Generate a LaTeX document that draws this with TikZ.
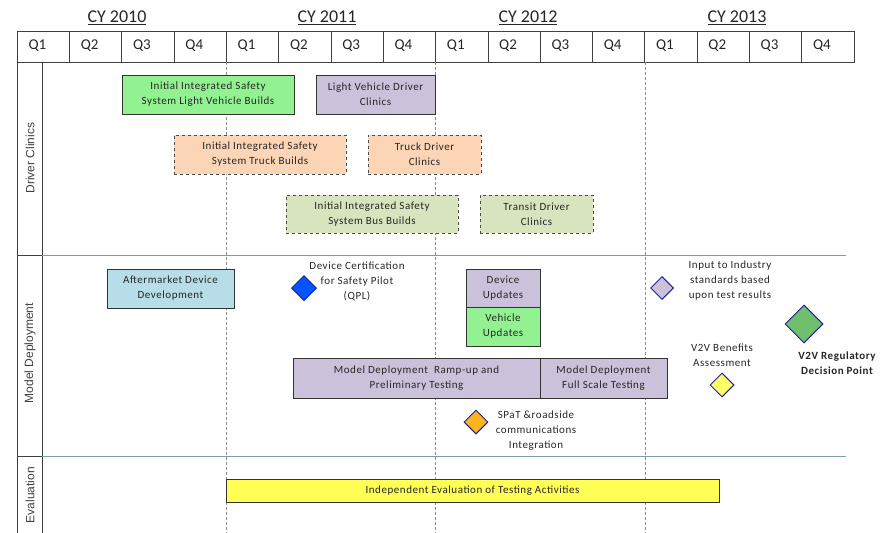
\documentclass[tikz,border=0pt]{standalone}
\usepackage{fontspec}
\setmainfont{Carlito}
\newfontfamily\boxfont{Carlito}[LetterSpace=5]
\newfontfamily\lanefont{Liberation Sans}
\usetikzlibrary{shapes.geometric}
\definecolor{buildgreen}{HTML}{92F292}
\definecolor{clinicpurple}{HTML}{CCC1DA}
\definecolor{truckpeach}{HTML}{FBD5B5}
\definecolor{busolive}{HTML}{D7E4BD}
\definecolor{marketblue}{HTML}{B7DEE8}
\definecolor{certblue}{HTML}{0055FF}
\definecolor{spatorange}{HTML}{FBB41C}
\definecolor{benefityellow}{HTML}{FFFF66}
\definecolor{decisiongreen}{HTML}{6FBF6F}
\definecolor{evalyellow}{HTML}{FFFF55}
\definecolor{mileedge}{HTML}{22229A}
\definecolor{lanegray}{HTML}{7F9DB0}
\begin{document}
\begin{tikzpicture}[
  x=1pt, y=-1pt,
  every node/.style={font=\boxfont\fontsize{11}{15}\selectfont, text=black!85},
  task/.style={draw=black!80, line width=0.8pt, align=center, inner sep=0pt},
  plan/.style={task, dashed, draw=black!70},
  mile/.style={diamond, draw=mileedge, line width=1pt, inner sep=0pt},
  note/.style={align=center},
  lane/.style={rotate=90, font=\lanefont\fontsize{12}{14}\selectfont, text=black!75},
  qcell/.style={anchor=west, font=\rmfamily\fontsize{15}{17}\selectfont},
  cy/.style={font=\rmfamily\fontsize{18}{20}\selectfont},
  sep/.style={draw=lanegray, line width=1pt},
  yearline/.style={draw=black!45, dash pattern=on 3pt off 2pt}
]
\useasboundingbox (0,0) rectangle (887,533);

% year headings
\node[cy] (cy10) at (117,18) {\underline{CY 2010}};
\node[cy] (cy11) at (327,18) {\underline{CY 2011}};
\node[cy] (cy12) at (528,18) {\underline{CY 2012}};
\node[cy] (cy13) at (737,18) {\underline{CY 2013}};

% quarter row
\draw[black!75] (17,31) rectangle (854,62);
\foreach \i in {0,...,15} {
  \pgfmathtruncatemacro\qn{mod(\i,4)+1}
  \node[qcell] (q\i) at ({17+52.3*\i+8},46) {Q\qn};
  \ifnum\i>0 \draw[black!75] ({17+52.3*\i},31) -- ({17+52.3*\i},62); \fi
}

% lanes
\draw[black!75] (17,62) -- (17,533) (42,62) -- (42,533);
\draw[black!75] (17,255) -- (42,255) (17,456) -- (42,456);
\draw[sep] (42,255) -- (846,255);
\draw[sep] (42,456) -- (846,456);
\draw[yearline] (226,62) -- (226,533);
\draw[yearline] (435,62) -- (435,533);
\draw[yearline] (645,62) -- (645,533);

\node[lane] (driver) at (30,158) {Driver Clinics};
\node[lane] (model) at (30,353) {Model Deployment};
\node[lane] (eval) at (30,495) {Evaluation};

% driver clinics
\node[task, fill=buildgreen, minimum width=172pt, minimum height=39pt] (lvbuild) at (208,94.5)
  {Initial Integrated Safety\\System Light Vehicle Builds};
\node[task, fill=clinicpurple, minimum width=119pt, minimum height=39pt] (lvclinic) at (375.5,94.5)
  {Light Vehicle Driver\\Clinics};
\node[plan, fill=truckpeach, minimum width=172pt, minimum height=39pt] (truckbuild) at (260,154.5)
  {Initial Integrated Safety\\System Truck Builds};
\node[plan, fill=truckpeach, minimum width=113pt, minimum height=39pt] (truckclinic) at (424.5,154.5)
  {Truck Driver\\Clinics};
\node[plan, fill=busolive, minimum width=172pt, minimum height=38pt] (busbuild) at (372,214)
  {Initial Integrated Safety\\System Bus Builds};
\node[plan, fill=busolive, minimum width=113pt, minimum height=38pt] (transitclinic) at (536.5,214)
  {Transit Driver\\Clinics};

% model deployment
\node[task, fill=marketblue, minimum width=127pt, minimum height=39pt] (aftermarket) at (170.5,288.5)
  {Aftermarket Device\\Development};
\node[mile, fill=certblue, minimum width=25pt, minimum height=25pt] (qpl) at (304,288) {};
\node[note] (qplnote) at (357,281) {Device Certification\\for Safety Pilot\\(QPL)};
\node[task, fill=clinicpurple, minimum width=74pt, minimum height=38pt] (devupd) at (503,288)
  {Device\\Updates};
\node[task, fill=buildgreen, minimum width=74pt, minimum height=39pt] (vehupd) at (503,326.5)
  {Vehicle\\Updates};
\node[task, fill=clinicpurple, minimum width=247pt, minimum height=40pt] (rampup) at (416.5,378)
  {Model Deployment\ \ Ramp-up and\\Preliminary Testing};
\node[task, fill=clinicpurple, minimum width=127pt, minimum height=40pt] (fullscale) at (603.5,378)
  {Model Deployment\\Full Scale Testing};
\node[mile, fill=spatorange, minimum width=24pt, minimum height=24pt] (spat) at (476,422) {};
\node[note] (spatnote) at (536,431) {SPaT \&roadside\\communications\\Integration};
\node[mile, fill=clinicpurple, minimum width=23pt, minimum height=23pt] (input) at (662,288) {};
\node[note] (inputnote) at (730,281) {Input to Industry\\standards based\\upon test results};
\node[mile, fill=benefityellow, minimum width=24pt, minimum height=24pt] (benefit) at (722,385) {};
\node[note] (benefitnote) at (722,355.5) {V2V Benefits\\Assessment};
\node[mile, fill=decisiongreen, minimum width=38pt, minimum height=38pt] (decision) at (804,324) {};
\node[note, font=\boxfont\bfseries\fontsize{11}{15}\selectfont] (decisionnote) at (837,363.5)
  {V2V Regulatory\\Decision Point};

% evaluation
\node[task, fill=evalyellow, minimum width=493pt, minimum height=23pt] (evalbox) at (472.5,490.5)
  {Independent Evaluation of Testing Activities};
\end{tikzpicture}
\end{document}
